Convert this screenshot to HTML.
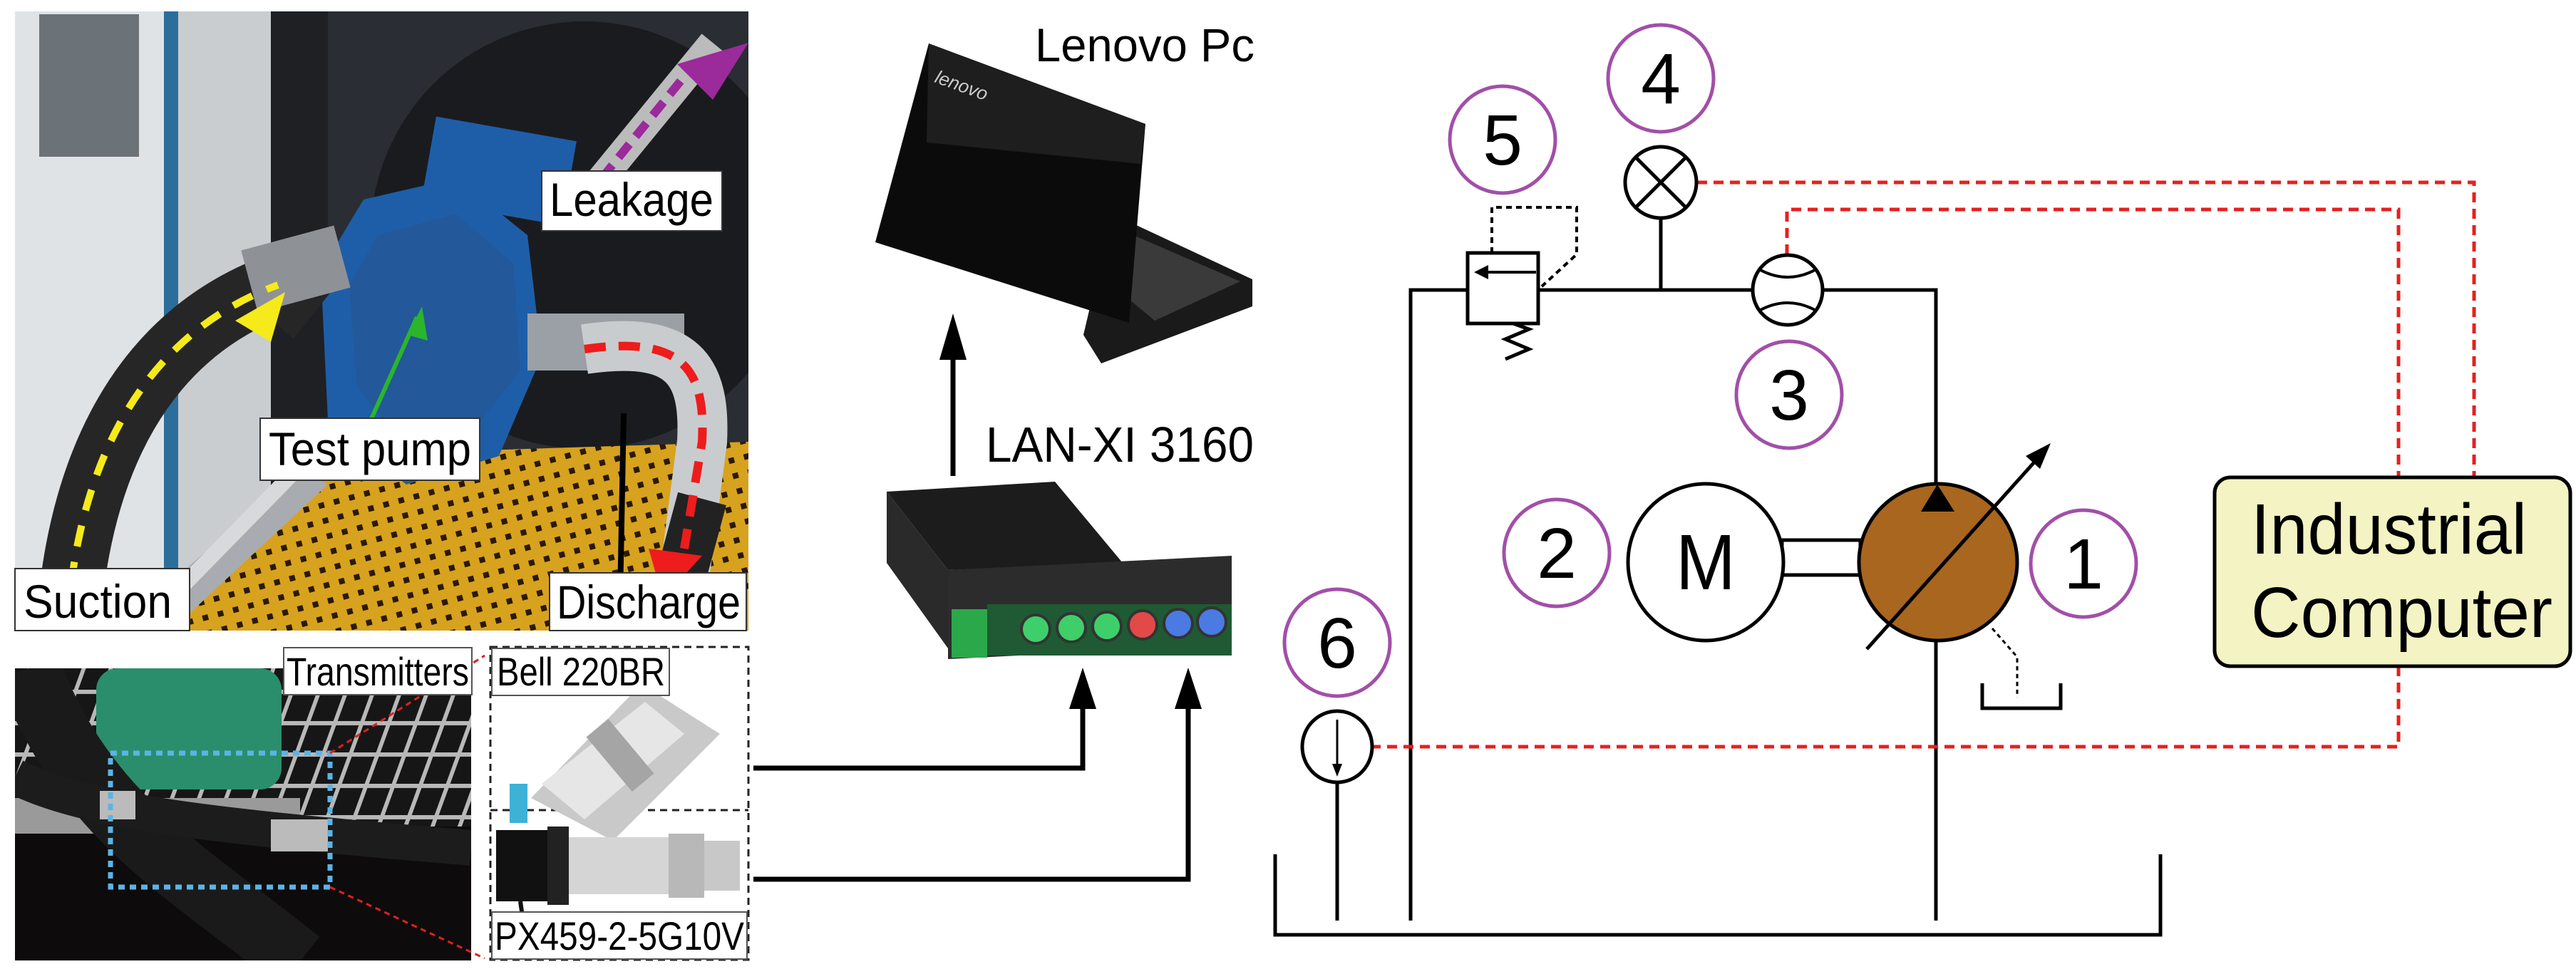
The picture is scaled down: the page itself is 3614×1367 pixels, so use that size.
<!DOCTYPE html>
<html><head><meta charset="utf-8"><style>
html,body{margin:0;padding:0;background:#fff;}
svg{display:block;}
text{font-family:"Liberation Sans",sans-serif;}
</style></head><body>
<svg width="3614" height="1367" viewBox="0 0 3614 1367" xmlns="http://www.w3.org/2000/svg">
<defs>
<pattern id="grate" width="22" height="22" patternUnits="userSpaceOnUse" patternTransform="rotate(-15)">
<rect width="22" height="22" fill="#d7a21e"/><rect x="6" y="6" width="8" height="8" fill="#2a1a05"/>
</pattern>
<pattern id="grid" width="38" height="44" patternUnits="userSpaceOnUse" patternTransform="skewX(-20)">
<rect width="38" height="44" fill="#161616"/><rect width="6" height="44" fill="#b8b8b8"/><rect width="38" height="6" fill="#b8b8b8"/>
</pattern>
</defs>

<!-- ===== top photo ===== -->
<g>
<clipPath id="c1"><rect x="21" y="16" width="1029" height="869"/></clipPath>
<g clip-path="url(#c1)">
<rect x="21" y="16" width="1029" height="869" fill="#2a2d33"/>
<rect x="21" y="16" width="220" height="869" fill="#dfe3e6"/>
<rect x="55" y="20" width="140" height="200" fill="#6c7378"/>
<rect x="230" y="16" width="20" height="869" fill="#2b6e9c"/>
<rect x="250" y="16" width="130" height="869" fill="#c9cdd0"/>
<rect x="380" y="16" width="80" height="700" fill="#1e2024"/>
<circle cx="820" cy="330" r="300" fill="#1a1b1f"/>
<polygon points="200,885 430,640 1050,620 1050,885" fill="url(#grate)"/>
<polygon points="190,860 420,660 460,680 240,885" fill="#a8acb0"/>
<polygon points="180,885 210,885 430,660 410,650" fill="#d8d9da"/>
<!-- pump -->
<polygon points="510,280 640,250 740,330 760,500 700,640 570,680 460,590 450,380" fill="#1e5ea8"/>
<rect x="600" y="180" width="200" height="120" fill="#1e5ea8" transform="rotate(10 700 240)"/>
<polygon points="530,330 640,300 720,370 730,520 660,610 560,620 500,540 490,400" fill="#23589a"/>
<!-- suction hose -->
<path d="M95,885 C110,650 200,470 390,400 L440,440" stroke="#262626" stroke-width="90" fill="none"/>
<path d="M350,395 L480,360" stroke="#8e9297" stroke-width="90"/>
<path d="M95,870 C110,650 200,470 390,400" stroke="#f5ea1a" stroke-width="10" stroke-dasharray="30,22" fill="none"/>
<polygon points="330,450 400,410 380,480" fill="#f5ea1a"/>
<!-- discharge -->
<rect x="740" y="440" width="220" height="80" fill="#9aa0a5"/>
<path d="M820,490 C960,470 990,520 985,620 L960,810" stroke="#c9ccce" stroke-width="70" fill="none"/>
<path d="M985,700 L950,830" stroke="#222" stroke-width="70"/>
<path d="M820,490 C960,470 990,520 985,620 L960,770" stroke="#ee1c1c" stroke-width="12" stroke-dasharray="30,18" fill="none"/>
<polygon points="910,770 985,780 930,840" fill="#ee1c1c"/>
<line x1="875" y1="580" x2="870" y2="840" stroke="#000" stroke-width="8"/>
<!-- leakage -->
<path d="M820,280 L1000,60" stroke="#bbb" stroke-width="40"/>
<path d="M820,280 L970,95" stroke="#9b2a9b" stroke-width="12" stroke-dasharray="24,14"/>
<polygon points="950,90 1050,60 1000,140" fill="#9b2a9b"/>
<!-- green arrow -->
<line x1="520" y1="590" x2="585" y2="445" stroke="#2bb52b" stroke-width="6"/>
<polygon points="572,470 592,430 600,478" fill="#2bb52b"/>
</g>
<rect x="21" y="798" width="245" height="87" fill="#fff" stroke="#333" stroke-width="2"/>
<text x="33" y="867" font-size="66" textLength="208" lengthAdjust="spacingAndGlyphs">Suction</text>
<rect x="771" y="804" width="276" height="81" fill="#fff" stroke="#333" stroke-width="2"/>
<text x="781" y="868" font-size="66" textLength="258" lengthAdjust="spacingAndGlyphs">Discharge</text>
<rect x="760" y="240" width="253" height="84" fill="#fff" stroke="#333" stroke-width="2"/>
<text x="771" y="303" font-size="66" textLength="230" lengthAdjust="spacingAndGlyphs">Leakage</text>
<rect x="365" y="587" width="308" height="87" fill="#fff" stroke="#333" stroke-width="2"/>
<text x="377" y="653" font-size="66" textLength="284" lengthAdjust="spacingAndGlyphs">Test pump</text>
</g>

<!-- ===== bottom photo ===== -->
<clipPath id="c2"><rect x="21" y="938" width="640" height="410"/></clipPath>
<g clip-path="url(#c2)">
<rect x="21" y="938" width="640" height="410" fill="url(#grid)"/>
<rect x="21" y="1160" width="640" height="190" fill="#0d0b0b"/>
<rect x="21" y="1120" width="400" height="50" fill="#9a9a9a"/>
<rect x="135" y="938" width="260" height="170" rx="30" fill="#2a8e6c"/>
<path d="M40,938 C120,1150 260,1220 420,1350" stroke="#1a1a1a" stroke-width="90" fill="none"/>
<path d="M21,1090 C120,1140 300,1160 661,1190" stroke="#1c1c1c" stroke-width="50" fill="none"/>
<rect x="140" y="1110" width="50" height="40" fill="#bbb"/>
<rect x="380" y="1150" width="80" height="45" fill="#bbb"/>
</g>
<rect x="155" y="1057" width="308" height="188" fill="none" stroke="#5ab4e6" stroke-width="7" stroke-dasharray="9,7"/>
<line x1="463" y1="1057" x2="680" y2="920" stroke="#e02020" stroke-width="3" stroke-dasharray="8,6"/>
<line x1="463" y1="1245" x2="680" y2="1345" stroke="#e02020" stroke-width="3" stroke-dasharray="8,6"/>
<rect x="398" y="909" width="264" height="66" fill="#fff" stroke="#555" stroke-width="2"/>
<text x="402" y="962" font-size="56" textLength="256" lengthAdjust="spacingAndGlyphs">Transmitters</text>

<!-- sensor panel -->
<rect x="688" y="908" width="362" height="439" fill="#fff" stroke="#222" stroke-width="3" stroke-dasharray="10,7"/>
<line x1="688" y1="1137" x2="1050" y2="1137" stroke="#222" stroke-width="3" stroke-dasharray="10,7"/>
<g>
<polygon points="745,1120 900,960 1010,1030 860,1180" fill="#c9c9c9"/>
<polygon points="760,1100 905,985 960,1030 820,1150" fill="#e6e6e6"/>
<rect x="850" y="1010" width="40" height="100" fill="#a5a5a5" transform="rotate(-40 870 1060)"/>
<rect x="715" y="1100" width="25" height="55" fill="#3eb1d6"/>
</g>
<g>
<rect x="696" y="1165" width="72" height="100" fill="#111"/>
<rect x="768" y="1160" width="30" height="110" fill="#222"/>
<rect x="798" y="1175" width="140" height="80" fill="#d5d5d5"/>
<rect x="938" y="1170" width="50" height="90" fill="#b8b8b8"/>
<rect x="988" y="1180" width="50" height="70" fill="#c8c8c8"/>
<path d="M730,1265 L735,1300" stroke="#111" stroke-width="6"/>
</g>
<rect x="690" y="910" width="249" height="66" fill="#fff" stroke="#555" stroke-width="2"/>
<text x="697" y="962" font-size="56" textLength="236" lengthAdjust="spacingAndGlyphs">Bell 220BR</text>
<rect x="690" y="1280" width="358" height="66" fill="#fff" stroke="#555" stroke-width="2"/>
<text x="694" y="1333" font-size="56" textLength="350" lengthAdjust="spacingAndGlyphs">PX459-2-5G10V</text>

<!-- ===== laptop ===== -->
<text x="1452" y="86" font-size="66" textLength="308" lengthAdjust="spacingAndGlyphs">Lenovo Pc</text>
<polygon points="1560,300 1757,392 1757,430 1545,510 1520,470" fill="#1a1a1a"/>
<polygon points="1590,330 1740,395 1620,450 1560,400" fill="#3a3a3a"/>
<polygon points="1303,61 1607,174 1584,453 1228,340" fill="#0b0b0b"/>
<polygon points="1303,61 1607,174 1600,230 1300,200" fill="#1e1e1e"/>
<text x="1310" y="115" font-size="26" fill="#ccc" font-style="italic" transform="rotate(20 1310 115)">lenovo</text>
<!-- arrow up -->
<line x1="1337" y1="668" x2="1337" y2="500" stroke="#000" stroke-width="7"/>
<polygon points="1337,440 1318,505 1356,505" fill="#000"/>
<text x="1383" y="648" font-size="70" textLength="376" lengthAdjust="spacingAndGlyphs">LAN-XI 3160</text>
<!-- DAQ -->
<polygon points="1244,690 1480,676 1575,790 1330,800" fill="#1c1c1c"/>
<polygon points="1244,690 1330,800 1330,910 1244,790" fill="#2a2a2a"/>
<polygon points="1330,800 1728,780 1728,905 1330,925" fill="#2c2c2c"/>
<rect x="1335" y="855" width="50" height="68" fill="#2aa84a"/>
<rect x="1385" y="848" width="343" height="72" fill="#1f5a34"/>
<g stroke="#333" stroke-width="4">
<circle cx="1453" cy="883" r="20" fill="#3ecf6a"/><circle cx="1503" cy="881" r="20" fill="#3ecf6a"/>
<circle cx="1553" cy="879" r="20" fill="#3ecf6a"/><circle cx="1603" cy="877" r="20" fill="#e24a4a"/>
<circle cx="1653" cy="875" r="20" fill="#4a7ae2"/><circle cx="1700" cy="873" r="20" fill="#4a7ae2"/>
</g>
<!-- connectors -->
<polyline points="1057,1078 1519,1078 1519,990" fill="none" stroke="#000" stroke-width="7"/>
<polygon points="1519,937 1500,995 1538,995" fill="#000"/>
<polyline points="1057,1234 1667,1234 1667,990" fill="none" stroke="#000" stroke-width="7"/>
<polygon points="1667,937 1648,995 1686,995" fill="#000"/>

<!-- ===== hydraulic schematic ===== -->
<g fill="none" stroke="#000" stroke-width="5">
<polyline points="1789,1199 1789,1312 3031,1312 3031,1199"/>
<polyline points="1979,1292 1979,407 2716,407 2716,1292"/>
<line x1="2330" y1="307" x2="2330" y2="407"/>
<line x1="1876" y1="1098" x2="1876" y2="1292"/>
</g>
<g fill="none" stroke="#e52020" stroke-width="5" stroke-dasharray="14,9">
<polyline points="2381,256 3471,256 3471,670"/>
<polyline points="2507,357 2507,294 3365,294 3365,670"/>
<polyline points="3365,935 3365,1048 1926,1048"/>
</g>
<rect x="2059" y="355" width="99" height="99" fill="#fff" stroke="#000" stroke-width="5"/>
<line x1="2155" y1="382" x2="2080" y2="382" stroke="#000" stroke-width="4"/>
<polygon points="2068,382 2088,372 2088,392" fill="#000"/>
<polyline points="2123,454 2145,462 2112,476 2145,490 2112,504" fill="none" stroke="#000" stroke-width="5"/>
<polyline points="2093,355 2093,291 2212,291 2212,357 2163,402" fill="none" stroke="#000" stroke-width="4" stroke-dasharray="8,6"/>
<circle cx="2330" cy="256" r="50" fill="#fff" stroke="#000" stroke-width="5"/>
<line x1="2295" y1="221" x2="2365" y2="291" stroke="#000" stroke-width="5"/>
<line x1="2365" y1="221" x2="2295" y2="291" stroke="#000" stroke-width="5"/>
<circle cx="2508" cy="407" r="49" fill="#fff" stroke="#000" stroke-width="5"/>
<path d="M2468,378 Q2508,400 2548,378" fill="none" stroke="#000" stroke-width="4"/>
<path d="M2468,436 Q2508,414 2548,436" fill="none" stroke="#000" stroke-width="4"/>
<rect x="2500" y="758" width="110" height="49" fill="#fff" stroke="#000" stroke-width="5"/>
<ellipse cx="2393" cy="789" rx="109" ry="110" fill="#fff" stroke="#000" stroke-width="5"/>
<text x="2393" y="827" font-size="110" text-anchor="middle" textLength="84" lengthAdjust="spacingAndGlyphs">M</text>
<ellipse cx="2719" cy="789" rx="111" ry="110" fill="#a8661e" stroke="#000" stroke-width="5"/>
<polygon points="2718,680 2695,718 2742,718" fill="#000"/>
<line x1="2619" y1="911" x2="2860" y2="642" stroke="#000" stroke-width="5"/>
<polygon points="2877,622 2842,640 2862,658" fill="#000"/>
<polyline points="2795,882 2830,922 2830,979" fill="none" stroke="#000" stroke-width="3" stroke-dasharray="6,5"/>
<polyline points="2781,959 2781,994 2891,994 2891,959" fill="none" stroke="#000" stroke-width="5"/>
<ellipse cx="1876" cy="1048" rx="49" ry="50" fill="#fff" stroke="#000" stroke-width="5"/>
<line x1="1876" y1="1010" x2="1876" y2="1080" stroke="#000" stroke-width="3"/>
<polygon points="1876,1090 1869,1072 1883,1072" fill="#000"/>
<g fill="#fff" stroke="#a24fa8" stroke-width="5">
<ellipse cx="2330" cy="110" rx="74" ry="75"/>
<ellipse cx="2108" cy="196" rx="74" ry="75"/>
<ellipse cx="2510" cy="554" rx="74" ry="75"/>
<ellipse cx="2184" cy="776" rx="74" ry="75"/>
<ellipse cx="2923" cy="791" rx="74" ry="75"/>
<ellipse cx="1876" cy="902" rx="74" ry="75"/>
</g>
<g font-size="100" text-anchor="middle">
<text x="2330" y="145">4</text>
<text x="2108" y="231">5</text>
<text x="2510" y="589">3</text>
<text x="2184" y="811">2</text>
<text x="2923" y="826">1</text>
<text x="1876" y="937">6</text>
</g>
<rect x="3107" y="670" width="499" height="265" rx="22" fill="#f3f3c3" stroke="#000" stroke-width="5"/>
<text x="3158" y="777" font-size="100" textLength="387" lengthAdjust="spacingAndGlyphs">Industrial</text>
<text x="3158" y="894" font-size="100" textLength="423" lengthAdjust="spacingAndGlyphs">Computer</text>
</svg>
</body></html>
